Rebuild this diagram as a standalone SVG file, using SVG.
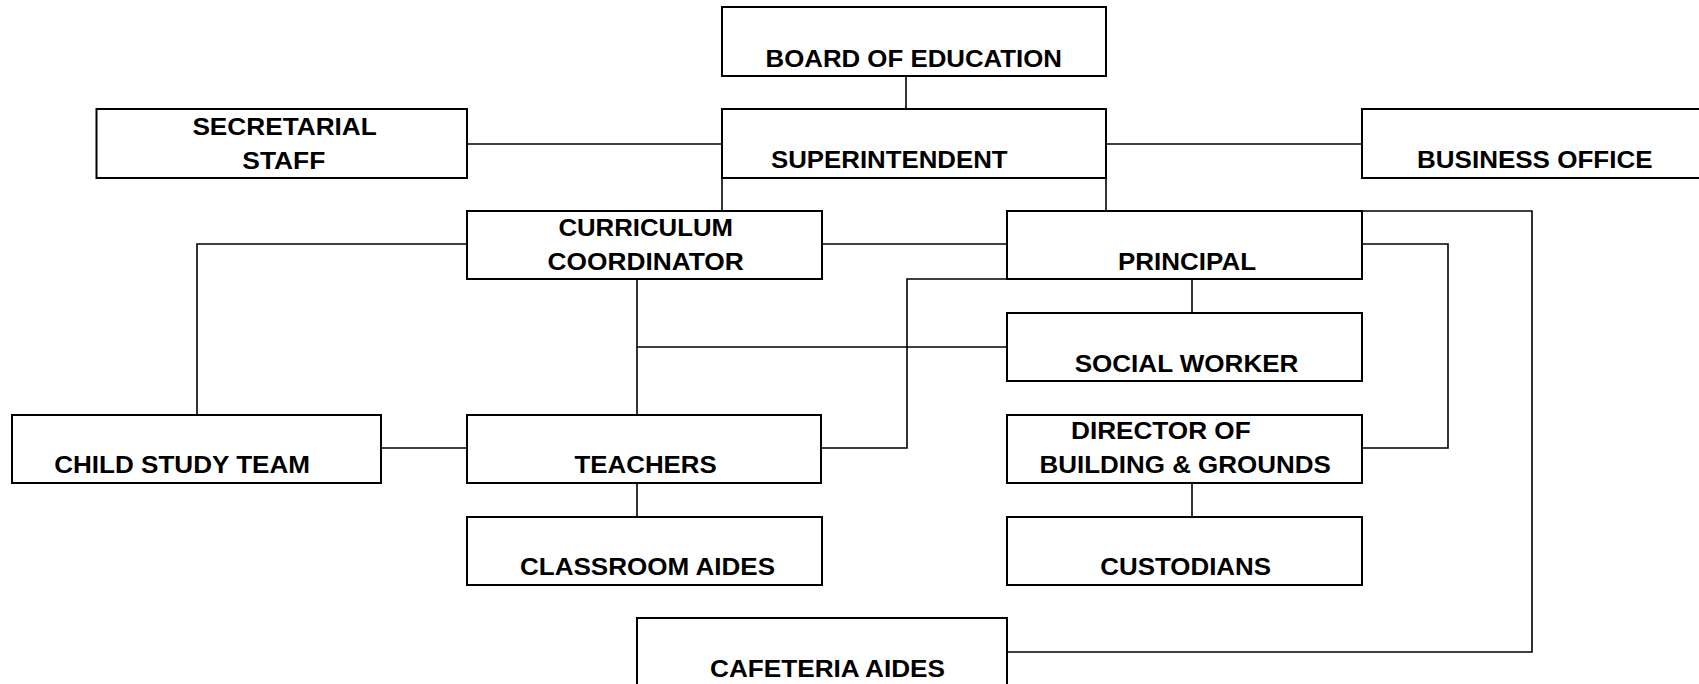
<svg xmlns="http://www.w3.org/2000/svg" width="1699" height="684" viewBox="0 0 1699 684">
<style>
.box{fill:#fff;stroke:#000;stroke-width:2}
.ln{fill:none;stroke:#000;stroke-width:1.6}
text{font-family:"Liberation Sans",Arial,sans-serif;font-weight:bold;font-size:24px;fill:#000}
</style>
<rect width="1699" height="684" fill="#fff"/>
<g id="connectors">
<path class="ln" d="M906 76V109"/>
<path class="ln" d="M467 144H722"/>
<path class="ln" d="M1106 144H1362"/>
<path class="ln" d="M722 178V211"/>
<path class="ln" d="M1106 178V211"/>
<path class="ln" d="M1007 211H1532V652H1007"/>
<path class="ln" d="M467 244H197V415"/>
<path class="ln" d="M822 244H1007"/>
<path class="ln" d="M637 279V415"/>
<path class="ln" d="M637 347H1007"/>
<path class="ln" d="M1192 279V313"/>
<path class="ln" d="M1007 279H907V448H821"/>
<path class="ln" d="M381 448H467"/>
<path class="ln" d="M1362 244H1448V448H1362"/>
<path class="ln" d="M637 483V517"/>
<path class="ln" d="M1192 483V517"/>
</g>
<g id="board"><rect class="box" x="722" y="7" width="384" height="69"/><text x="765.5" y="66.7" textLength="296.5" lengthAdjust="spacingAndGlyphs">BOARD OF EDUCATION</text></g>
<g id="secretarial"><rect class="box" x="96.5" y="109" width="370.5" height="69"/><text x="192.4" y="135" textLength="184.4" lengthAdjust="spacingAndGlyphs">SECRETARIAL</text><text x="242.3" y="169" textLength="83" lengthAdjust="spacingAndGlyphs">STAFF</text></g>
<g id="superintendent"><rect class="box" x="722" y="109" width="384" height="69"/><text x="771" y="168.3" textLength="236.6" lengthAdjust="spacingAndGlyphs">SUPERINTENDENT</text></g>
<g id="business"><rect class="box" x="1362" y="109" width="345" height="69"/><text x="1417" y="168.3" textLength="235.5" lengthAdjust="spacingAndGlyphs">BUSINESS OFFICE</text></g>
<g id="curriculum"><rect class="box" x="467" y="211" width="355" height="68"/><text x="558.4" y="236" textLength="174.6" lengthAdjust="spacingAndGlyphs">CURRICULUM</text><text x="547.5" y="270" textLength="196.3" lengthAdjust="spacingAndGlyphs">COORDINATOR</text></g>
<g id="principal"><rect class="box" x="1007" y="211" width="355" height="68"/><text x="1118" y="270" textLength="138" lengthAdjust="spacingAndGlyphs">PRINCIPAL</text></g>
<g id="social"><rect class="box" x="1007" y="313" width="355" height="68"/><text x="1074.7" y="371.7" textLength="223.7" lengthAdjust="spacingAndGlyphs">SOCIAL WORKER</text></g>
<g id="child"><rect class="box" x="12" y="415" width="369" height="68"/><text x="54.2" y="473.3" textLength="255.8" lengthAdjust="spacingAndGlyphs">CHILD STUDY TEAM</text></g>
<g id="teachers"><rect class="box" x="467" y="415" width="354" height="68"/><text x="574.6" y="473.3" textLength="142.1" lengthAdjust="spacingAndGlyphs">TEACHERS</text></g>
<g id="director"><rect class="box" x="1007" y="415" width="355" height="68"/><text x="1071" y="439.3" textLength="179.7" lengthAdjust="spacingAndGlyphs">DIRECTOR OF</text><text x="1039.5" y="473.3" textLength="291.3" lengthAdjust="spacingAndGlyphs">BUILDING &amp; GROUNDS</text></g>
<g id="classroom"><rect class="box" x="467" y="517" width="355" height="68"/><text x="520" y="575" textLength="255" lengthAdjust="spacingAndGlyphs">CLASSROOM AIDES</text></g>
<g id="custodians"><rect class="box" x="1007" y="517" width="355" height="68"/><text x="1100.3" y="575" textLength="170.7" lengthAdjust="spacingAndGlyphs">CUSTODIANS</text></g>
<g id="cafeteria"><rect class="box" x="637" y="618" width="370" height="90"/><text x="710" y="676.7" textLength="235" lengthAdjust="spacingAndGlyphs">CAFETERIA AIDES</text></g>
</svg>
